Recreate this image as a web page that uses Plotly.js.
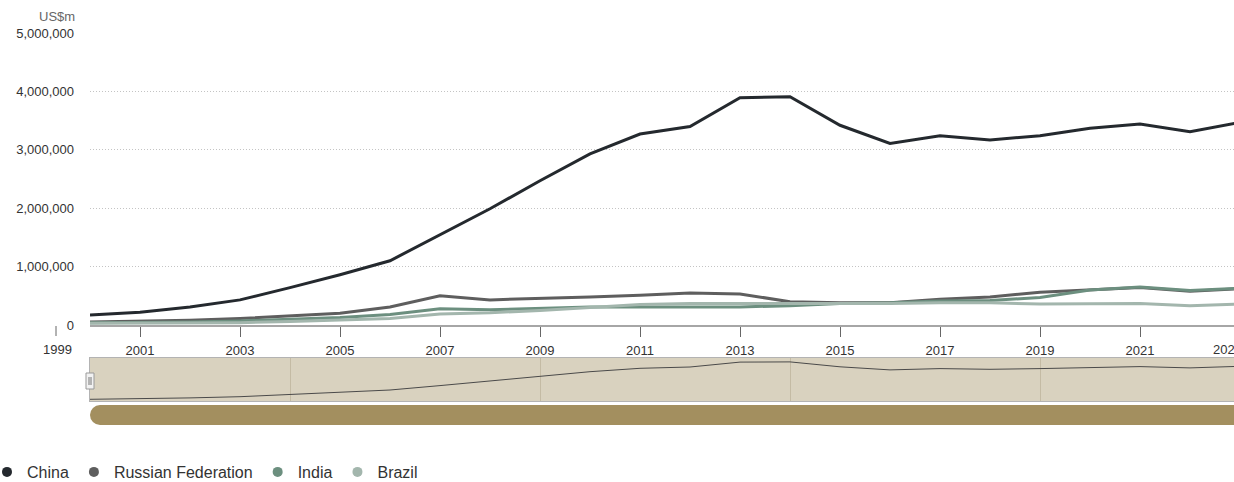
<!DOCTYPE html>
<html>
<head>
<meta charset="utf-8">
<script src="https://cdn.plot.ly/plotly-3.0.1.min.js"></script>
<style>
html,body{margin:0;padding:0;overflow:hidden;background:#fff;}
#chart{width:1240px;height:482px;}
</style>
</head>
<body>
<div id="chart"></div>
<script>
// ---- Data (US$m) ----
var years = [2000,2001,2002,2003,2004,2005,2006,2007,2008,2009,2010,2011,2012,2013,2014,2015,2016,2017,2018,2019,2020,2021,2022,2023];
var china = [170000,220000,310000,430000,640000,860000,1100000,1540000,1990000,2470000,2930000,3270000,3400000,3890000,3910000,3420000,3110000,3240000,3170000,3240000,3370000,3440000,3310000,3470000];
var russia = [50000,60000,80000,110000,150000,200000,310000,500000,430000,450000,480000,510000,550000,530000,400000,380000,380000,440000,480000,560000,600000,640000,580000,620000];
var india = [40000,40000,50000,70000,100000,130000,180000,280000,260000,290000,310000,310000,310000,310000,330000,370000,380000,410000,420000,470000,600000,650000,590000,630000];
var brazil = [30000,30000,30000,40000,60000,80000,110000,190000,210000,250000,300000,350000,370000,370000,360000,370000,370000,380000,380000,360000,360000,370000,330000,360000];
var seriesNames = ["China","Russian Federation","India","Brazil"];
var yTicks = [0,1000000,2000000,3000000,4000000,5000000];
var unitLabel = "US$m";
var firstYearLabel = "1999";
var lastYearLabel = "2023";

// ---- Styles ----
var colors = ["#24292e","#5e5e5e","#6c8f7f","#a3b6ad"];
var W = 1240, H = 482, L = 90;
function px(x){ return (x - L) / (W - L); }
function py(y){ return (H - y) / H; }

var allSeries = [china, russia, india, brazil];
var traces = [];
allSeries.forEach(function(s, i){
  traces.push({
    x: years, y: s, type: "scatter", mode: "lines",
    line: {color: colors[i], width: 3},
    xaxis: "x", yaxis: "y", showlegend: false, hoverinfo: "skip"
  });
});
// navigator line
traces.push({
  x: years, y: china, type: "scatter", mode: "lines",
  line: {color: "#4a4a4a", width: 1},
  xaxis: "x2", yaxis: "y2", showlegend: false, hoverinfo: "skip"
});
// legend entries (circle markers)
seriesNames.forEach(function(n, i){
  traces.push({
    x: [null], y: [null], type: "scatter", mode: "markers",
    marker: {color: colors[i], size: 10, symbol: "circle"},
    name: n, xaxis: "x", yaxis: "y", showlegend: true
  });
});

var layout = {
  width: W, height: H,
  margin: {l: L, r: 0, t: 0, b: 0, autoexpand: false},
  paper_bgcolor: "#ffffff",
  plot_bgcolor: "#ffffff",
  font: {family: "Liberation Sans, Arial, sans-serif", size: 13, color: "#333333"},
  xaxis: {
    domain: [0, 1], range: [2000, 2023], anchor: "y",
    tickmode: "linear", tick0: 2001, dtick: 2,
    ticks: "outside", ticklen: 10, tickwidth: 1, tickcolor: "#666666",
    showline: true, linecolor: "#a6a6a6", linewidth: 2,
    showgrid: false, zeroline: false,
    tickfont: {size: 13, color: "#333333"},
    ticklabelstandoff: 2, fixedrange: true
  },
  yaxis: {
    domain: [py(325), py(33)], range: [0, 5000000], anchor: "x",
    tickmode: "array", tickvals: yTicks, tickformat: ",d",
    showgrid: true, gridcolor: "#c4c4c4", gridwidth: 1, griddash: "1px,2px",
    zeroline: false, showline: false, ticks: "",
    ticklabelstandoff: 15,
    tickfont: {size: 13, color: "#333333"}, fixedrange: true
  },
  xaxis2: {
    domain: [0, 1], range: [2000, 2023], anchor: "y2",
    tickmode: "linear", tick0: 2004, dtick: 5,
    showgrid: true, gridcolor: "#c4bba4", gridwidth: 1,
    showticklabels: false, ticks: "",
    showline: true, mirror: true, linecolor: "#b3b3b3", linewidth: 1,
    zeroline: false, fixedrange: true
  },
  yaxis2: {
    domain: [py(401), py(358)], range: [0, 4300000], anchor: "x2",
    showgrid: false, showticklabels: false, ticks: "", zeroline: false,
    showline: true, mirror: true, linecolor: "#b3b3b3", linewidth: 1,
    fixedrange: true
  },
  shapes: [
    {type: "rect", xref: "x2 domain", yref: "y2 domain", x0: 0, x1: 1, y0: 0, y1: 1,
     fillcolor: "#d9d2bf", line: {width: 0}, layer: "below"},
    {type: "rect", xref: "paper", yref: "paper", x0: px(86), x1: px(94), y0: py(389), y1: py(373),
     fillcolor: "#f2f2f2", line: {color: "#999999", width: 1}},
    {type: "line", xref: "paper", yref: "paper", x0: px(89), x1: px(89), y0: py(385), y1: py(377),
     line: {color: "#777777", width: 1}},
    {type: "line", xref: "paper", yref: "paper", x0: px(91), x1: px(91), y0: py(385), y1: py(377),
     line: {color: "#777777", width: 1}},
    {type: "circle", xref: "paper", yref: "paper", x0: px(90), x1: px(110), y0: py(425), y1: py(405),
     fillcolor: "#a38f5f", line: {width: 0}},
    {type: "rect", xref: "paper", yref: "paper", x0: px(100), x1: px(1234), y0: py(425), y1: py(405),
     fillcolor: "#a38f5f", line: {width: 0}},
    {type: "line", xref: "paper", yref: "paper", x0: px(56), x1: px(56), y0: py(336), y1: py(326),
     line: {color: "#666666", width: 1}}
  ],
  annotations: [
    {text: unitLabel, xref: "paper", yref: "paper", x: px(77), y: py(17),
     xanchor: "right", yanchor: "middle", showarrow: false,
     font: {size: 13, color: "#666666"}},
    {text: firstYearLabel, xref: "paper", yref: "paper", x: px(57), y: py(349),
     xanchor: "center", yanchor: "middle", showarrow: false,
     font: {size: 13, color: "#333333"}},
    {text: lastYearLabel, xref: "paper", yref: "paper", x: px(1211), y: py(349),
     xanchor: "left", yanchor: "middle", showarrow: false,
     font: {size: 13, color: "#333333"}}
  ],
  legend: {
    orientation: "h", x: px(-13), xanchor: "left", y: py(472), yanchor: "middle",
    font: {size: 16, color: "#333333"}, bgcolor: "rgba(0,0,0,0)",
    itemclick: false, itemdoubleclick: false
  },
  hovermode: false
};

Plotly.newPlot("chart", traces, layout, {displayModeBar: false, staticPlot: true});
</script>
</body>
</html>
